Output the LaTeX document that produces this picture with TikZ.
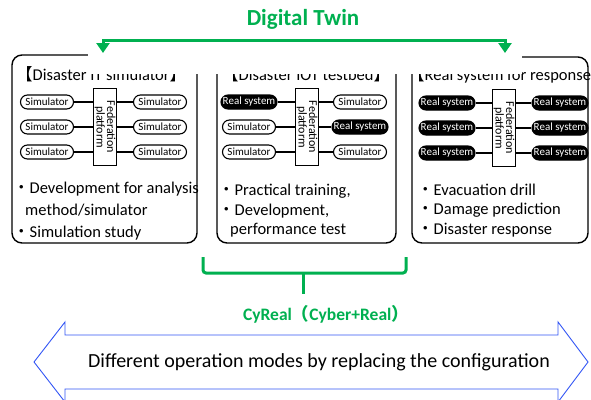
\documentclass[tikz,border=0pt]{standalone}
\usepackage{fontspec}
\setmainfont{Carlito}
\newfontfamily\jfont{Noto Sans CJK JP}
\usetikzlibrary{arrows.meta}
\definecolor{twingreen}{RGB}{0,176,80}
\definecolor{modeblue}{RGB}{50,85,245}
\tikzset{
  unit/.style={draw, line width=1.1pt, rounded corners=7pt, minimum width=53pt,
    minimum height=14pt, inner sep=0pt, font=\fontsize{11}{12}\selectfont},
  sim/.style={unit, fill=white, node contents=Simulator},
  realsys/.style={unit, minimum width=56pt, fill=black, text=white, node contents=Real system},
  fedbox/.style={draw, line width=1pt, minimum width=23pt, minimum height=77pt,
    inner sep=0pt, fill=white},
  fedtext/.style={rotate=-90, align=center, inner sep=0pt,
    font=\fontsize{12}{10.5}\selectfont},
  wire/.style={line width=1.1pt},
  panel/.style={draw, line width=1.4pt, rounded corners=10pt},
  title/.style={anchor=base west, inner sep=0pt, font=\fontsize{16.5}{17}\selectfont},
  item/.style={anchor=base west, inner sep=0pt, font=\fontsize{16.5}{17}\selectfont},
  twin/.style={draw=twingreen, line width=3pt},
}
\newcommand\bul{{\jfont ・}}
\begin{document}
\begin{tikzpicture}[x=1pt, y=-1pt]
\useasboundingbox (0,0) rectangle (591,399);
\clip (0,0) rectangle (591,399);

% three panels
\draw[panel] (12,55) rectangle (197,243);
\draw[panel] (217,55) rectangle (396,243);
\draw[panel] (412,57) rectangle (588,243);

% panel titles
\node[title] (t1) at (16,80) {{\jfont【}Disaster IT simulator{\jfont】}};
\node[title] (t2) at (222,80) {{\jfont【}Disaster IOT testbed{\jfont】}};
\node[title] (t3) at (408,80) {{\jfont【}Real system for response};

% panel 1: simulators only
\node[fedbox] (p1) at (105,127) {};
\node[fedtext] (p1t) at (p1) {Federation\\platform};
\node (a1) at (47,102) [sim];
\node (a2) at (47,127) [sim];
\node (a3) at (47,152) [sim];
\node (b1) at (160,102) [sim];
\node (b2) at (160,127) [sim];
\node (b3) at (160,152) [sim];

% panel 2: mixed
\node[fedbox] (p2) at (307,127) {};
\node[fedtext] (p2t) at (p2) {Federation\\platform};
\node (c1) at (249,102) [realsys];
\node (c2) at (249,127) [sim];
\node (c3) at (249,152) [sim];
\node (d1) at (360,102) [sim];
\node (d2) at (360,127) [realsys];
\node (d3) at (360,152) [sim];

% panel 3: real systems only
\node[fedbox] (p3) at (504,128) {};
\node[fedtext] (p3t) at (p3) {Federation\\platform};
\node (e1) at (447,103) [realsys];
\node (e2) at (447,128) [realsys];
\node (e3) at (447,153) [realsys];
\node (f1) at (560,103) [realsys];
\node (f2) at (560,128) [realsys];
\node (f3) at (560,153) [realsys];

\foreach \l/\p/\r in {a1/p1/b1, a2/p1/b2, a3/p1/b3,
                      c1/p2/d1, c2/p2/d2, c3/p2/d3,
                      e1/p3/f1, e2/p3/f2, e3/p3/f3} {
  \draw[wire] (\l.east) -- (\l.east -| \p.west);
  \draw[wire] (\p.east |- \r.west) -- (\r.west);
}

% use cases
\node[item] (u11) at (13,193) {\bul Development for analysis};
\node[item] (u12) at (25,215) {method/simulator};
\node[item] (u13) at (13,237) {\bul Simulation study};
\node[item] (u21) at (218,195) {\bul Practical training,};
\node[item] (u22) at (218,215) {\bul Development,};
\node[item] (u23) at (230,234) {performance test};
\node[item] (u31) at (417,195) {\bul Evacuation drill};
\node[item] (u32) at (417,214) {\bul Damage prediction};
\node[item] (u33) at (417,234) {\bul Disaster response};

% cover over the upper band
\fill[white] (88,45) rectangle (522,73.5);

% digital twin span
\node[text=twingreen, font=\bfseries\fontsize{23}{24}\selectfont] (dt) at (303,19) {Digital Twin};
\coordinate (twl) at (103,53);
\coordinate (twr) at (505,53);
\coordinate (twtop) at (303,40);
\draw[twin, {Triangle[width=13pt,length=10pt]}-{Triangle[width=13pt,length=10pt]}]
  (twl) |- (twtop) -| (twr);

% cyreal brace
\coordinate (brl) at (203,257);
\coordinate (brr) at (406,257);
\coordinate (brm) at (303,273);
\coordinate (brs) at (303,294);
\draw[twin, rounded corners=3pt] (brl) |- (brm) -| (brr);
\draw[twin] (brm) -- (brs);
\node[text=twingreen, font=\bfseries\fontsize{17.5}{18}\selectfont] (cy) at (326,314)
  {CyReal{\jfont（}Cyber+Real{\jfont）}};

% operation modes double arrow
\draw[draw=modeblue, line width=0.9pt, fill=white]
  (34,362) -- (65,322) -- (65,335) -- (558,335) -- (558,322) -- (588,362)
  -- (558,402) -- (558,389) -- (65,389) -- (65,402) -- cycle;
\node[font=\fontsize{20}{21}\selectfont] (modes) at (319,362)
  {Different operation modes by replacing the configuration};
\end{tikzpicture}
\end{document}
